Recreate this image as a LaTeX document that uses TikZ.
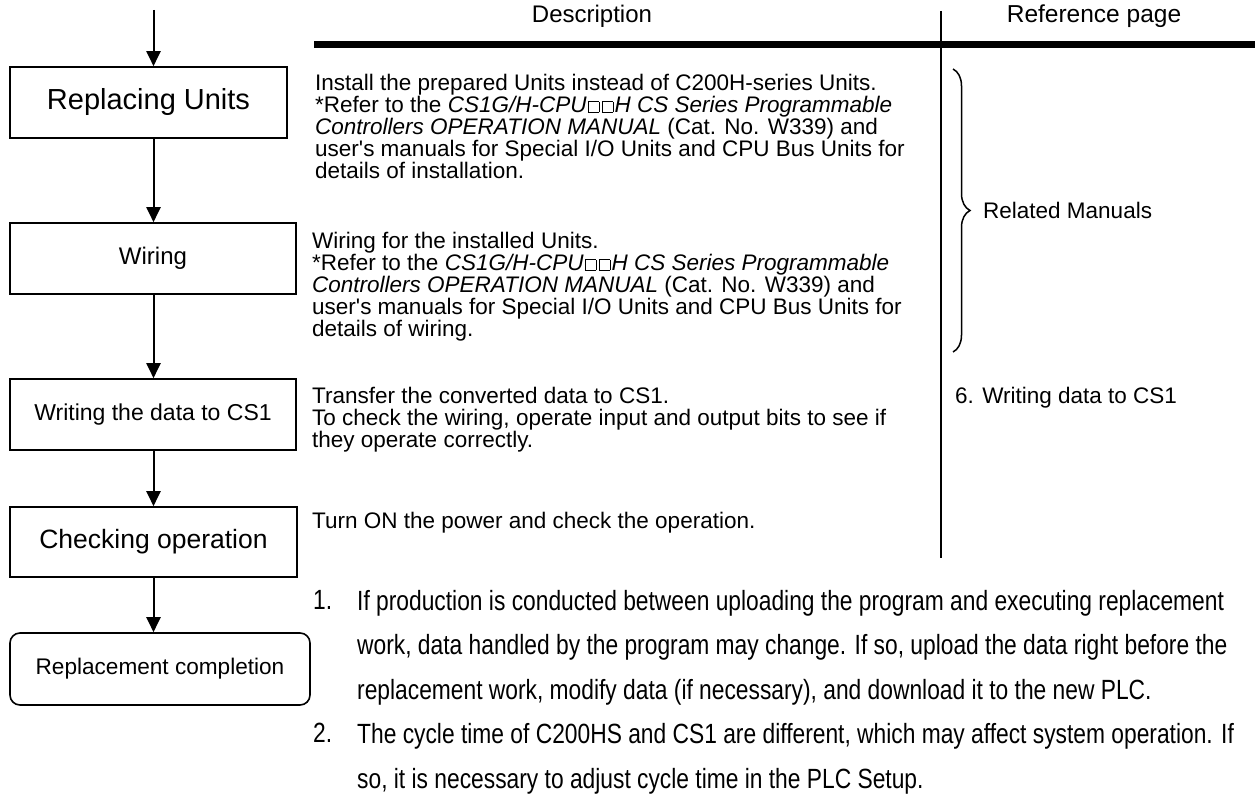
\documentclass[tikz,border=0pt]{standalone}
\usepackage{fontspec}
\setmainfont{Liberation Sans}
\newfontfamily\narrowfont[FakeStretch=0.82]{Liberation Sans}
\usepackage{tikz}
\usetikzlibrary{positioning, arrows.meta, decorations.pathreplacing}

\lineskiplimit=-30pt
\newcommand{\sqbox}{{\setlength{\fboxsep}{0pt}\setlength{\fboxrule}{0.6pt}\kern0.06em\fbox{\rule{0pt}{0.45em}\rule{0.45em}{0pt}}\kern0.06em}}
\newcommand{\opman}{*Refer to the \textit{CS1G/H-CPU\sqbox\sqbox H CS Series Programmable}\\
  \textit{Controllers OPERATION MANUAL} (Cat. No. W339) and\\
  user\textquotesingle s manuals for Special I/O Units and CPU Bus Units for}

\begin{document}
\begin{tikzpicture}[x=1pt, y=-1pt,
    stepbox/.style={draw, line width=1.6pt, inner sep=0pt, minimum height=71pt},
    desc/.style={anchor=north west, inner sep=0pt, align=left, font=\fontsize{22.5}{22}\selectfont},
    note/.style={anchor=north west, inner sep=0pt, align=left, font=\narrowfont\fontsize{27.8}{44.5}\selectfont},
    flow/.style={line width=2pt, -{Triangle[length=15pt, width=14pt]}}]
  \useasboundingbox (0,0) rectangle (1255,799);

  % flow chart on the left
  \coordinate (start) at (153.5,10);
  \node[stepbox, minimum width=277pt, font=\fontsize{29}{29}\selectfont] (units) at (148.5,102.5) {Replacing Units};
  \node[stepbox, minimum width=286pt, font=\fontsize{24}{24}\selectfont] (wiring) at (153,258.5) {Wiring};
  \node[stepbox, minimum width=286pt, font=\fontsize{23}{23}\selectfont] (write) at (153,414.5) {Writing the data to CS1};
  \node[stepbox, minimum width=287pt, minimum height=70pt, font=\fontsize{26.5}{26.5}\selectfont] (check) at (153.5,542) {Checking operation};
  \node[stepbox, rounded corners=10pt, minimum width=300pt, minimum height=72pt, font=\fontsize{22.6}{22.6}\selectfont] (done) at (160,669) {Replacement completion};

  \draw[flow] (start) -- (start |- units.north);
  \draw[flow] (units.south -| start) -- (wiring.north -| start);
  \draw[flow] (wiring.south -| start) -- (write.north -| start);
  \draw[flow] (write.south -| start) -- (check.north -| start);
  \draw[flow] (check.south -| start) -- (done.north -| start);

  % table head
  \node[font=\fontsize{24}{24}\selectfont] (deschead) at (592,16) {Description};
  \node[font=\fontsize{24.5}{24.5}\selectfont] (refhead) at (1094,16) {Reference page};
  \draw[line width=7pt] (314,44.5) -- (1255,44.5);
  \draw[line width=1.5pt] (941,11) -- (941,558);

  % description column
  \node[desc] (install) at (315,73.6) {Install the prepared Units instead of C200H-series Units.\\ \opman\\ details of installation.};
  \node[desc] (wiretext) at (312,231.6) {Wiring for the installed Units.\\ \opman\\ details of wiring.};
  \node[desc] (transfer) at (312,386.6) {Transfer the converted data to CS1.\\
    To check the wiring, operate input and output bits to see if\\ they operate correctly.};
  \node[desc] (power) at (312,511.6) {Turn ON the power and check the operation.};

  % reference column
  \draw[line width=1.5pt, decorate, decoration={brace, amplitude=17pt}] (953,69) -- (953,352);
  \node[desc, anchor=west] (manuals) at (983,210) {Related Manuals};
  \node[desc] (writeref) at (955,386.6) {6. Writing data to CS1};

  % notes
  \node[note] (num1) at (313,589.7) {1.};
  \node[note] (note1) at (357,589.7) {If production is conducted between uploading the program and executing replacement\\
    work, data handled by the program may change. If so, upload the data right before the\\
    replacement work, modify data (if necessary), and download it to the new PLC.};
  \node[note] (num2) at (313,723.2) {2.};
  \node[note] (note2) at (357,723.2) {The cycle time of C200HS and CS1 are different, which may affect system operation. If\\
    so, it is necessary to adjust cycle time in the PLC Setup.};
\end{tikzpicture}
\end{document}
